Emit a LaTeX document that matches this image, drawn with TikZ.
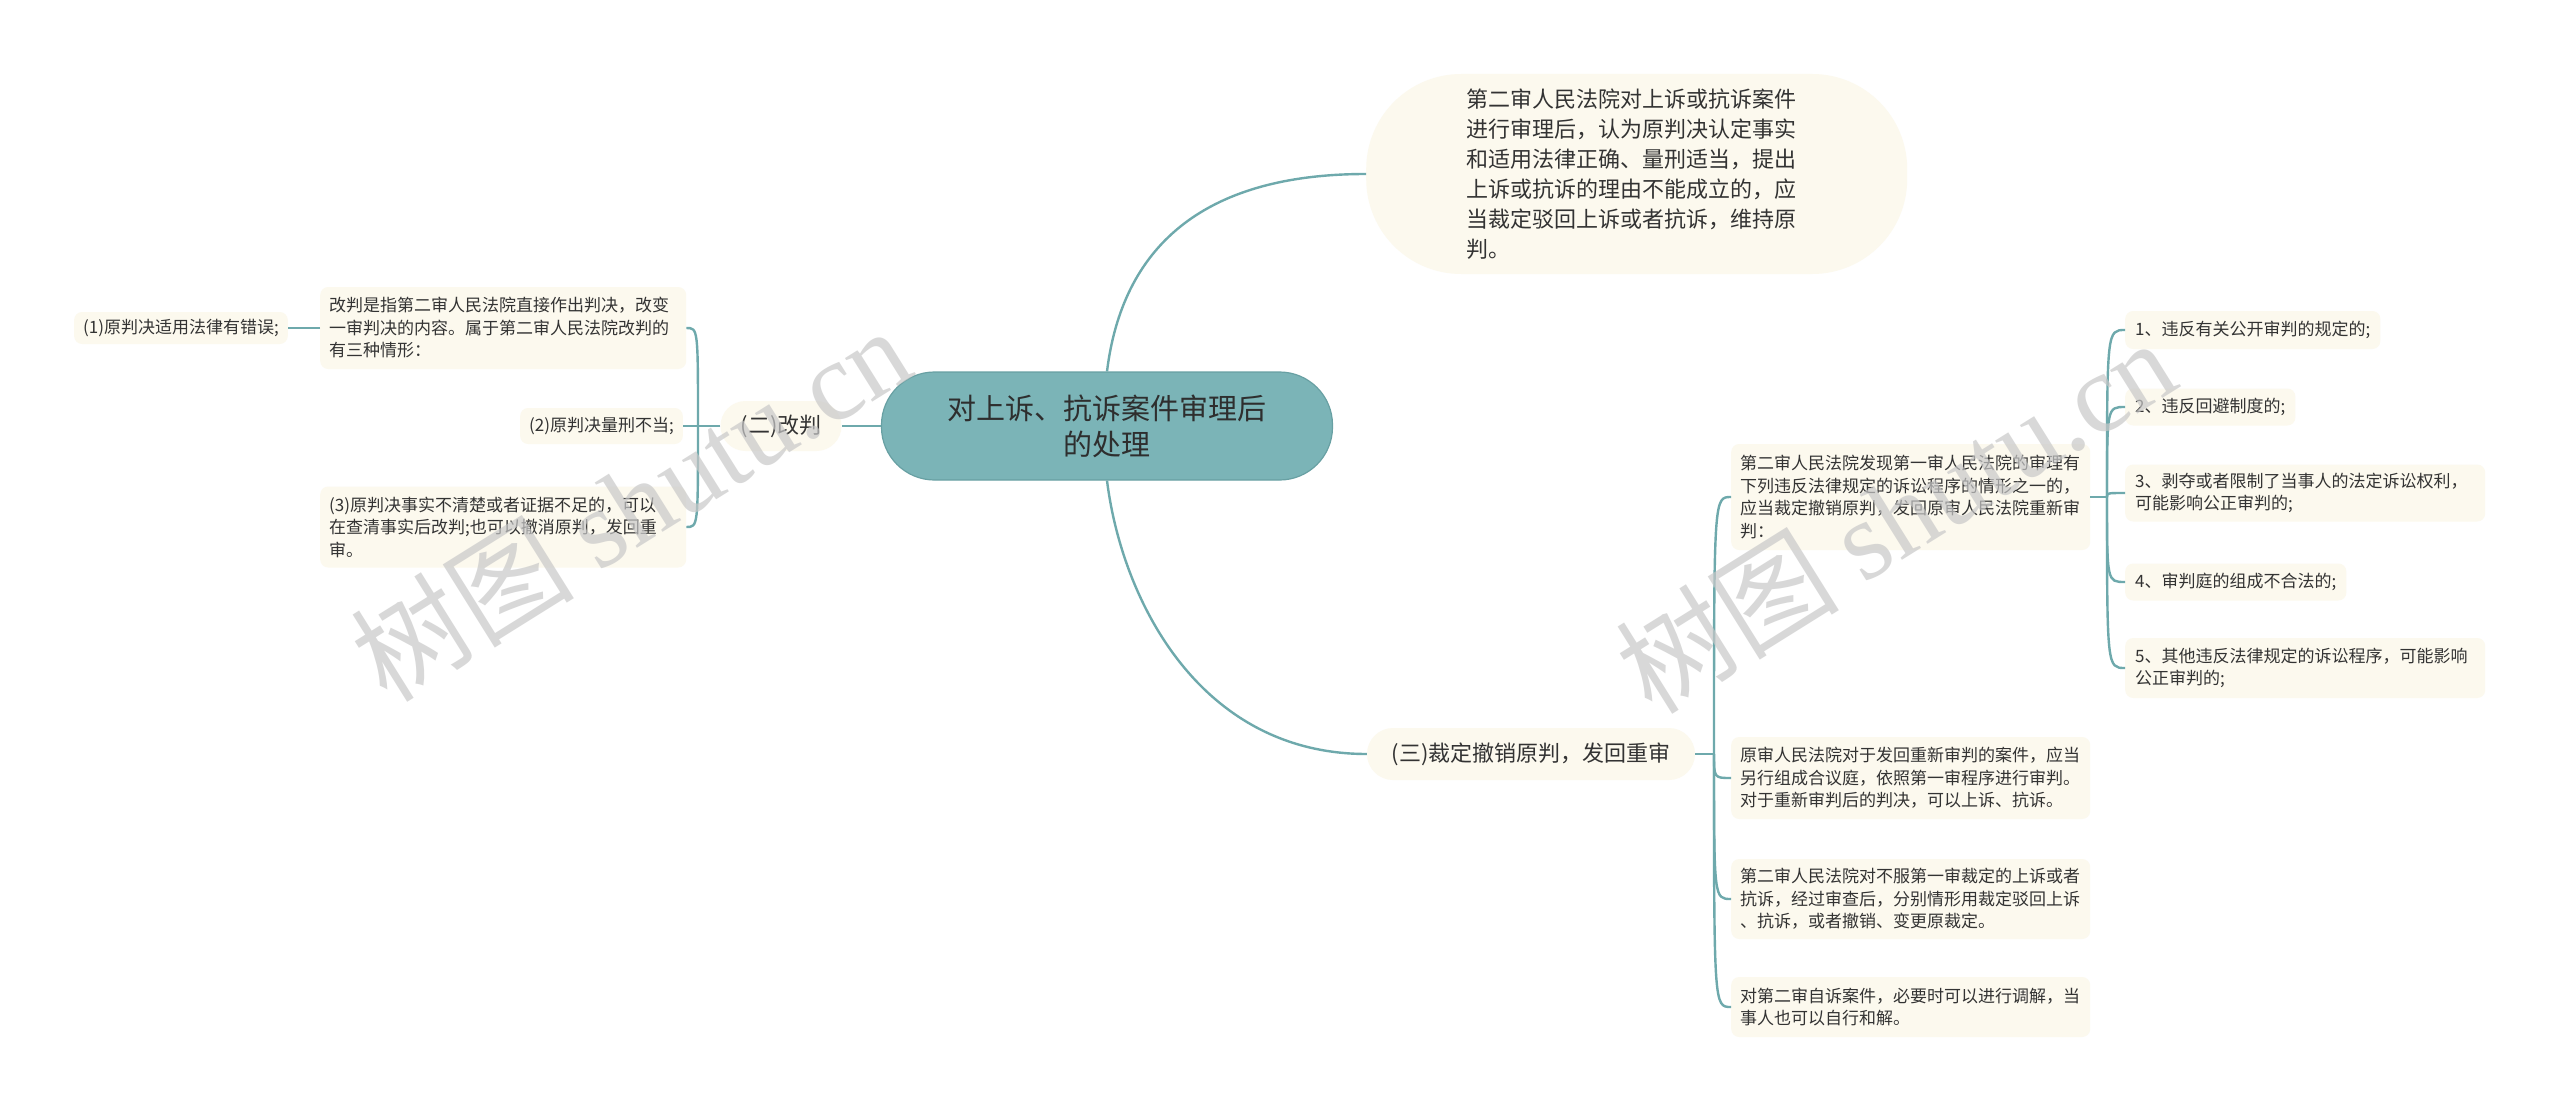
\documentclass[tikz,border=0pt]{standalone}
\usepackage{fontspec}
\setmainfont{Noto Sans CJK SC}
\newfontfamily\wmserif{Liberation Serif}
\definecolor{linec}{HTML}{6EA9AC}
\definecolor{rootfill}{HTML}{7BB4B7}
\definecolor{rootdraw}{HTML}{68A0A3}
\definecolor{cream}{HTML}{FCF9EE}
\definecolor{txt}{HTML}{333333}
\definecolor{wm}{HTML}{C8C8C8}
\tikzset{
  conn/.style={draw=linec, line width=2.4pt},
  leaf/.style={fill=cream, rounded corners=8pt, inner xsep=9pt, inner ysep=0pt, align=left, text=txt,
    font=\fontsize{17}{22.5}\selectfont},
  midnode/.style={fill=cream, inner xsep=0pt, inner ysep=0pt, align=center, text=txt,
    font=\fontsize{22}{30}\selectfont},
  rootnode/.style={fill=rootfill, draw=rootdraw, line width=1.2pt, rounded corners=53pt, align=center,
    text=txt!90!black, inner sep=0pt, minimum width=451pt, minimum height=108pt,
    font=\fontsize{29}{36}\selectfont},
  wmark/.style={text=wm, opacity=0.7, rotate=32, inner sep=0pt}
}
\begin{document}
\begin{tikzpicture}[x=1pt,y=-1pt]
\useasboundingbox[fill=white] (0,0) rectangle (2560,1113);

% central topic
\node[rootnode] (root) at (1107,426) {对上诉、抗诉案件审理后\\的处理};

% top right
\node[midnode, anchor=west, rounded corners=95pt, minimum height=200pt, inner xsep=100pt,
      text width=341pt, align=left] (T) at (1366,174)
  {第二审人民法院对上诉或抗诉案件\\进行审理后，认为原判决认定事实\\和适用法律正确、量刑适当，提出\\上诉或抗诉的理由不能成立的，应\\当裁定驳回上诉或者抗诉，维持原\\判。};

% left branch
\node[midnode, rounded corners=25pt, minimum width=121pt, minimum height=50pt] (er) at (781,426) {(二)改判};
\node[leaf, anchor=west, text width=348pt, minimum height=82pt] (A) at (320,328)
  {改判是指第二审人民法院直接作出判决，改变\\一审判决的内容。属于第二审人民法院改判的\\有三种情形：};
\node[leaf, anchor=east, minimum height=36pt] (B) at (683,426) {(2)原判决量刑不当;};
\node[leaf, anchor=west, text width=348pt, minimum height=81pt] (C) at (320,527)
  {(3)原判决事实不清楚或者证据不足的，可以\\在查清事实后改判;也可以撤消原判，发回重\\审。};
\node[leaf, anchor=east, minimum height=32pt] (D) at (288,328) {(1)原判决适用法律有错误;};

% right branch
\node[midnode, rounded corners=26pt, minimum width=328pt, minimum height=52pt] (san) at (1531,754) {(三)裁定撤销原判，发回重审};
\node[leaf, anchor=west, text width=341pt, minimum height=106pt] (E) at (1731,497)
  {第二审人民法院发现第一审人民法院的审理有\\下列违反法律规定的诉讼程序的情形之一的，\\应当裁定撤销原判，发回原审人民法院重新审\\判：};
\node[leaf, anchor=west, text width=341pt, minimum height=82pt] (F) at (1731,778)
  {原审人民法院对于发回重新审判的案件，应当\\另行组成合议庭，依照第一审程序进行审判。\\对于重新审判后的判决，可以上诉、抗诉。};
\node[leaf, anchor=west, text width=341pt, minimum height=80pt] (G) at (1731,899)
  {第二审人民法院对不服第一审裁定的上诉或者\\抗诉，经过审查后，分别情形用裁定驳回上诉\\、抗诉，或者撤销、变更原裁定。};
\node[leaf, anchor=west, text width=341pt, minimum height=60pt] (H) at (1731,1007)
  {对第二审自诉案件，必要时可以进行调解，当\\事人也可以自行和解。};

\node[leaf, anchor=west, inner xsep=10pt, minimum height=38pt] (I1) at (2125,330) {1、违反有关公开审判的规定的;};
\node[leaf, anchor=west, inner xsep=10pt, minimum height=37pt] (I2) at (2125,407) {2、违反回避制度的;};
\node[leaf, anchor=west, inner xsep=10pt, text width=340pt, minimum height=57pt] (I3) at (2125,493)
  {3、剥夺或者限制了当事人的法定诉讼权利，\\可能影响公正审判的;};
\node[leaf, anchor=west, inner xsep=10pt, minimum height=37pt] (I4) at (2125,582) {4、审判庭的组成不合法的;};
\node[leaf, anchor=west, inner xsep=10pt, text width=340pt, minimum height=60pt] (I5) at (2125,668)
  {5、其他违反法律规定的诉讼程序，可能影响\\公正审判的;};

% junctions
\coordinate (jl) at (698,426);
\coordinate (jr) at (1714,754);
\coordinate (jr2) at (2107,497);

% connectors from root
\draw[conn] (root.north) .. controls +(15,-122) and +(-166,0) .. (T.west);
\draw[conn] (root.south) .. controls +(15,120) and +(-167,0) .. (san.west);
\draw[conn] (root.west) -- (er.east);

% left bracket
\draw[conn] (er.west) -- (B.east);
\draw[conn] (jl) .. controls (jl |- A.east) and (jl |- A.east) .. (A.east);
\draw[conn] (jl) .. controls (jl |- C.east) and (jl |- C.east) .. (C.east);
\draw[conn] (A.west) -- (D.east);

% right bracket
\draw[conn] (san.east) -- (jr);
\foreach \c in {E,F,G,H}{
  \draw[conn] (jr) .. controls (jr |- \c.west) and (jr |- \c.west) .. (\c.west);
}
\draw[conn] (E.east) -- (jr2);
\foreach \c in {I1,I2,I3,I4,I5}{
  \draw[conn] (jr2) .. controls (jr2 |- \c.west) and (jr2 |- \c.west) .. (\c.west);
}

% watermarks
\node[wmark] (wm1) at (630,503) {\fontsize{112}{112}\selectfont 树图 {\wmserif shutu.cn}};
\node[wmark] (wm2) at (1895,515) {\fontsize{112}{112}\selectfont 树图 {\wmserif shutu.cn}};
\end{tikzpicture}
\end{document}
